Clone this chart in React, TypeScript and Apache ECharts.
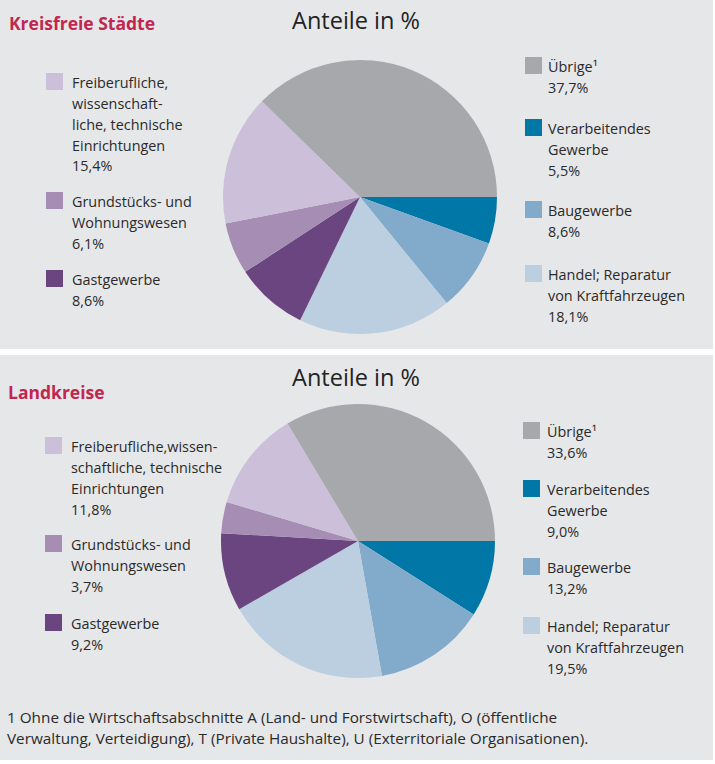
import React, { useEffect, useRef } from "react";
import * as echarts from "echarts";

// ---- data ----
const categories = [
  "Verarbeitendes Gewerbe",
  "Baugewerbe",
  "Handel; Reparatur von Kraftfahrzeugen",
  "Gastgewerbe",
  "Grundstücks- und Wohnungswesen",
  "Freiberufliche, wissenschaftliche, technische Einrichtungen",
  "Übrige¹",
];
const kreisfreieValues = [5.5, 8.6, 18.1, 8.6, 6.1, 15.4, 37.7];
const landkreiseValues = [9.0, 13.2, 19.5, 9.2, 3.7, 11.8, 33.6];
const kreisfreieLabelLines = [
  ["Verarbeitendes", "Gewerbe"],
  ["Baugewerbe"],
  ["Handel; Reparatur", "von Kraftfahrzeugen"],
  ["Gastgewerbe"],
  ["Grundstücks- und", "Wohnungswesen"],
  ["Freiberufliche,", "wissenschaft-", "liche, technische", "Einrichtungen"],
  ["Übrige¹"],
];
const landkreiseLabelLines = [
  ["Verarbeitendes", "Gewerbe"],
  ["Baugewerbe"],
  ["Handel; Reparatur", "von Kraftfahrzeugen"],
  ["Gastgewerbe"],
  ["Grundstücks- und", "Wohnungswesen"],
  ["Freiberufliche,wissen-", "schaftliche, technische", "Einrichtungen"],
  ["Übrige¹"],
];
const panelTitles = ["Kreisfreie Städte", "Landkreise"];
const chartTitle = "Anteile in %";
const footnoteLines = [
  "1 Ohne die Wirtschaftsabschnitte A (Land- und Forstwirtschaft), O (öffentliche",
  "Verwaltung, Verteidigung), T (Private Haushalte), U (Exterritoriale Organisationen).",
];

// ---- styles / layout ----
const colors = ["#0077a6", "#82aacb", "#bbcfe0", "#6a4580", "#a58db3", "#cbbfd9", "#a7a8ab"];
const FONT = "'Open Sans', 'Noto Sans', sans-serif";
const TEXT = "#2a2a2a";
const BG = "#e6e7e9";
const LH = 20.7;
// [squareX, squareTop, textX]
const topLegendPos = [
  [525, 119, 548],
  [525, 201, 548],
  [525, 265, 548],
  [46, 270, 72],
  [46, 192, 72],
  [46, 73, 72],
  [525, 57, 548],
];
const bottomLegendPos = [
  [523, 480, 547],
  [523, 558, 547],
  [523, 617, 547],
  [45, 614, 71],
  [45, 535, 71],
  [45, 437, 71],
  [523, 422, 547],
];

const fmt = (v: number) => v.toFixed(1).replace(".", ",") + "%";

function legendGraphics(values: number[], lines: string[][], pos: number[][]) {
  const els: any[] = [];
  values.forEach((v, i) => {
    const [sx, sy, tx] = pos[i];
    els.push({
      type: "rect",
      shape: { x: sx, y: sy, width: 17, height: 17 },
      style: { fill: colors[i] },
      silent: true,
    });
    els.push({
      type: "text",
      x: tx,
      y: sy + 10 - LH / 2,
      style: {
        text: [...lines[i], fmt(v)].join("\n"),
        fill: TEXT,
        fontFamily: FONT,
        fontSize: 14.4,
        lineHeight: LH,
        verticalAlign: "top",
        align: "left",
      },
      silent: true,
    });
  });
  return els;
}

export default function App() {
  const ref = useRef<HTMLDivElement>(null);
  useEffect(() => {
    document.body.style.margin = "0";
    const chart = echarts.init(ref.current!, null, { renderer: "svg" });
    const pieSeries = (values: number[], center: number[]) => ({
      type: "pie",
      center,
      radius: 137,
      startAngle: 0,
      clockwise: true,
      label: { show: false },
      labelLine: { show: false },
      emphasis: { disabled: true },
      itemStyle: { borderWidth: 0 },
      data: values.map((v, i) => ({ name: categories[i], value: v, itemStyle: { color: colors[i] } })),
    });
    const graphic: any[] = [
      { type: "rect", shape: { x: 0, y: 0, width: 713, height: 349 }, style: { fill: BG }, silent: true, z: -10 },
      { type: "rect", shape: { x: 0, y: 355, width: 713, height: 405 }, style: { fill: BG }, silent: true, z: -10 },
      {
        type: "text", x: 9, y: 23,
        style: { text: panelTitles[0], fill: "#c1264f", fontFamily: FONT, fontSize: 17.5, fontWeight: "bold", verticalAlign: "middle" },
        silent: true,
      },
      {
        type: "text", x: 8, y: 392,
        style: { text: panelTitles[1], fill: "#c1264f", fontFamily: FONT, fontSize: 17.5, fontWeight: "bold", verticalAlign: "middle" },
        silent: true,
      },
      {
        type: "text", x: 356, y: 20,
        style: { text: chartTitle, fill: "#222", fontFamily: FONT, fontSize: 23.5, align: "center", verticalAlign: "middle" },
        silent: true,
      },
      {
        type: "text", x: 356, y: 377,
        style: { text: chartTitle, fill: "#222", fontFamily: FONT, fontSize: 23.5, align: "center", verticalAlign: "middle" },
        silent: true,
      },
      {
        type: "text", x: 7, y: 717 - 10.5,
        style: {
          text: footnoteLines.join("\n"), fill: TEXT, fontFamily: FONT, fontSize: 15.3,
          lineHeight: 21, verticalAlign: "top",
        },
        silent: true,
      },
      ...legendGraphics(kreisfreieValues, kreisfreieLabelLines, topLegendPos),
      ...legendGraphics(landkreiseValues, landkreiseLabelLines, bottomLegendPos),
    ];
    chart.setOption({
      animation: false,
      backgroundColor: "#ffffff",
      graphic,
      series: [pieSeries(kreisfreieValues, [360, 197]), pieSeries(landkreiseValues, [358, 541])],
    });
    return () => chart.dispose();
  }, []);
  return <div ref={ref} style={{ width: 715, height: 764 }} />;
}
